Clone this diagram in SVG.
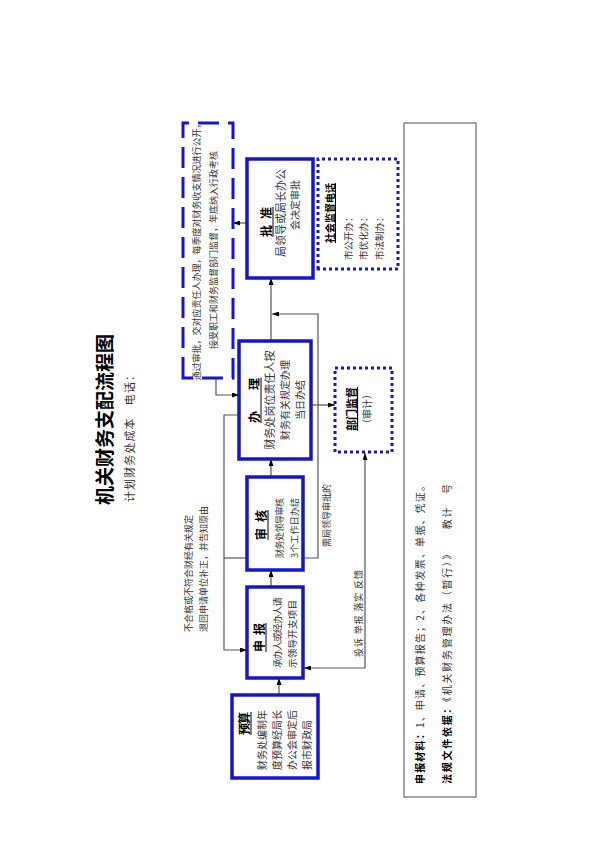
<svg xmlns="http://www.w3.org/2000/svg" width="600" height="850" viewBox="0 0 600 850">
<style>
.box{fill:#fff;stroke:#1515d0;stroke-width:3.5}
.dot{fill:none;stroke:#1515d0;stroke-width:3;stroke-dasharray:3 3}
.dash{fill:none;stroke:#1515d0;stroke-width:3;stroke-dasharray:21 9}
.gray{fill:none;stroke:#666;stroke-width:1.2}
.t{font-family:"Noto Sans CJK SC","Noto Sans",sans-serif;fill:#333}
.h{font-family:"Noto Sans CJK SC","Noto Sans",sans-serif;font-weight:bold;fill:#000}
.u{text-decoration:underline}
.ul{stroke:#000;stroke-width:1}
.c{fill:none;stroke:#555;stroke-width:1.2}
.a{marker-end:url(#arr)}
</style>
<defs>
<marker id="arr" viewBox="0 0 7 5" refX="7" refY="2.5" markerWidth="7" markerHeight="5" markerUnits="userSpaceOnUse" orient="auto-start-reverse">
<path d="M0,0 L7,2.5 L0,5 z" fill="#000"/>
</marker>
</defs>
<rect width="600" height="850" fill="#fff"/>
<g transform="translate(0,850) rotate(-90)">
<g id="title">
<text class="t" x="345" y="112" font-size="19" font-weight="bold" style="fill:#000">机关财务支配流程图</text>
<text class="t" x="348" y="134" font-size="11" textLength="132">计划财务处成本　电话：</text>
</g>
<g id="connectors">
<path class="c a" d="M155 279 L172 279"/>
<path class="c a" d="M263 271 L280 271"/>
<path class="c a" d="M373 271 L391 271"/>
<path class="c a" d="M509 271 L572 271"/>
<path class="c a" d="M292 303 L292 318 L536 318 L536 272"/>
<path class="c a" d="M435 239 L435 224 L200 224 L200 247"/>
<path class="c" d="M292 247 L292 224"/>
<path class="c a" d="M627 247 L627 233"/>
<path class="c a" d="M472 216 L455 216 L455 239"/>
<path class="c a" d="M445 311 L445 335"/>
<path class="c a" d="M182 304 L182 365 L397 365" style="marker-start:url(#arr)"/>
<text class="t" x="218" y="191.5" font-size="9">不合格或不符合财经有关规定</text>
<text class="t" x="218" y="206.5" font-size="9">退回申请单位补正，并告知原由</text>
<text class="t" x="303" y="330" font-size="9">需局领导审批的</text>
<text class="t" x="193" y="362" font-size="9" textLength="87">投诉 举报 落实 反馈</text>
</g>
<g id="yusuan">
<rect class="box" x="72" y="232" width="83" height="86"/>
<text class="h" x="115" y="248.5" font-size="12" textLength="23">预 算</text>
<line class="ul" x1="115" y1="251" x2="138" y2="251"/>
<text class="t" x="80" y="266" font-size="10">财务处编制年</text>
<text class="t" x="80" y="281" font-size="10">度预算经局长</text>
<text class="t" x="80" y="296" font-size="10">办公会审定后</text>
<text class="t" x="80" y="311" font-size="10">报市财政局</text>
</g>
<g id="shenbao">
<rect class="box" x="172" y="247" width="91" height="56"/>
<text class="h" x="198" y="263.5" font-size="12" textLength="29">申 报</text>
<line class="ul" x1="198" y1="266" x2="227" y2="266"/>
<text class="t" x="182" y="281" font-size="9.5" textLength="71">承办人或经办人请</text>
<text class="t" x="182" y="296" font-size="9.5" textLength="68">示领导开支项目</text>
</g>
<g id="shenhe">
<rect class="box" x="280" y="247" width="93" height="56"/>
<text class="h" x="310" y="265.5" font-size="12" textLength="30">审 核</text>
<line class="ul" x1="310" y1="268" x2="340" y2="268"/>
<text class="t" x="292" y="282.6" font-size="9" textLength="60">财务处领导审核</text>
<text class="t" x="292" y="297.6" font-size="9" textLength="60">3个工作日办结</text>
</g>
<g id="banli">
<rect class="box" x="391" y="239" width="118" height="72"/>
<text class="h" x="427" y="258.5" font-size="12" textLength="45">办 理</text>
<line class="ul" x1="427" y1="261" x2="472" y2="261"/>
<text class="t" x="450" y="274" font-size="11" text-anchor="middle">财务处岗位责任人按</text>
<text class="t" x="450" y="289" font-size="10" text-anchor="middle">财务有关规定办理</text>
<text class="t" x="450" y="304" font-size="10" text-anchor="middle">当日办结</text>
</g>
<g id="pizhun">
<rect class="box" x="572" y="247" width="119" height="66"/>
<text class="h" x="613" y="270.5" font-size="12" textLength="30">批 准</text>
<line class="ul" x1="613" y1="273" x2="643" y2="273"/>
<text class="t" x="593" y="285" font-size="11">局领导或局长办公</text>
<text class="t" x="620" y="299" font-size="10">会决定审批</text>
</g>
<g id="tongzhi">
<rect class="dash" x="472" y="183" width="255" height="50"/>
<text class="t" x="600" y="199.5" font-size="9" text-anchor="middle">通过审批，交对应责任人办理，每季度对财务收支情况进行公开，</text>
<text class="t" x="600" y="216.5" font-size="9" text-anchor="middle">接受职工和财务监督部门监督，年底纳入行政考核</text>
</g>
<g id="shehui">
<rect class="dot" x="581" y="318" width="110" height="80"/>
<text class="h u" x="607" y="334" font-size="10">社会监督电话</text>
<text class="t" x="590" y="352" font-size="9.5">市公开办：</text>
<text class="t" x="590" y="367" font-size="9.5">市优化办：</text>
<text class="t" x="590" y="383" font-size="9.5">市法制办：</text>
</g>
<g id="bumen">
<rect class="dot" x="398" y="335" width="84" height="57"/>
<text class="h u" x="441" y="356" font-size="11" text-anchor="middle">部门监督</text>
<text class="t" x="441" y="371" font-size="10" text-anchor="middle">（审计）</text>
</g>
<g id="notes">
<rect class="gray" x="53" y="404" width="674" height="72"/>
<text class="t" x="66" y="424" font-size="10" textLength="303"><tspan font-weight="bold" style="fill:#000">申报材料：</tspan>1、申请、预算报告；2、各种发票、单据、凭证。</text>
<text class="t" x="66" y="451" font-size="10" textLength="300"><tspan font-weight="bold" style="fill:#000">法规文件依据：</tspan>《机关财务管理办法（暂行）》　　教计　号</text>
</g>
</g>
</svg>
